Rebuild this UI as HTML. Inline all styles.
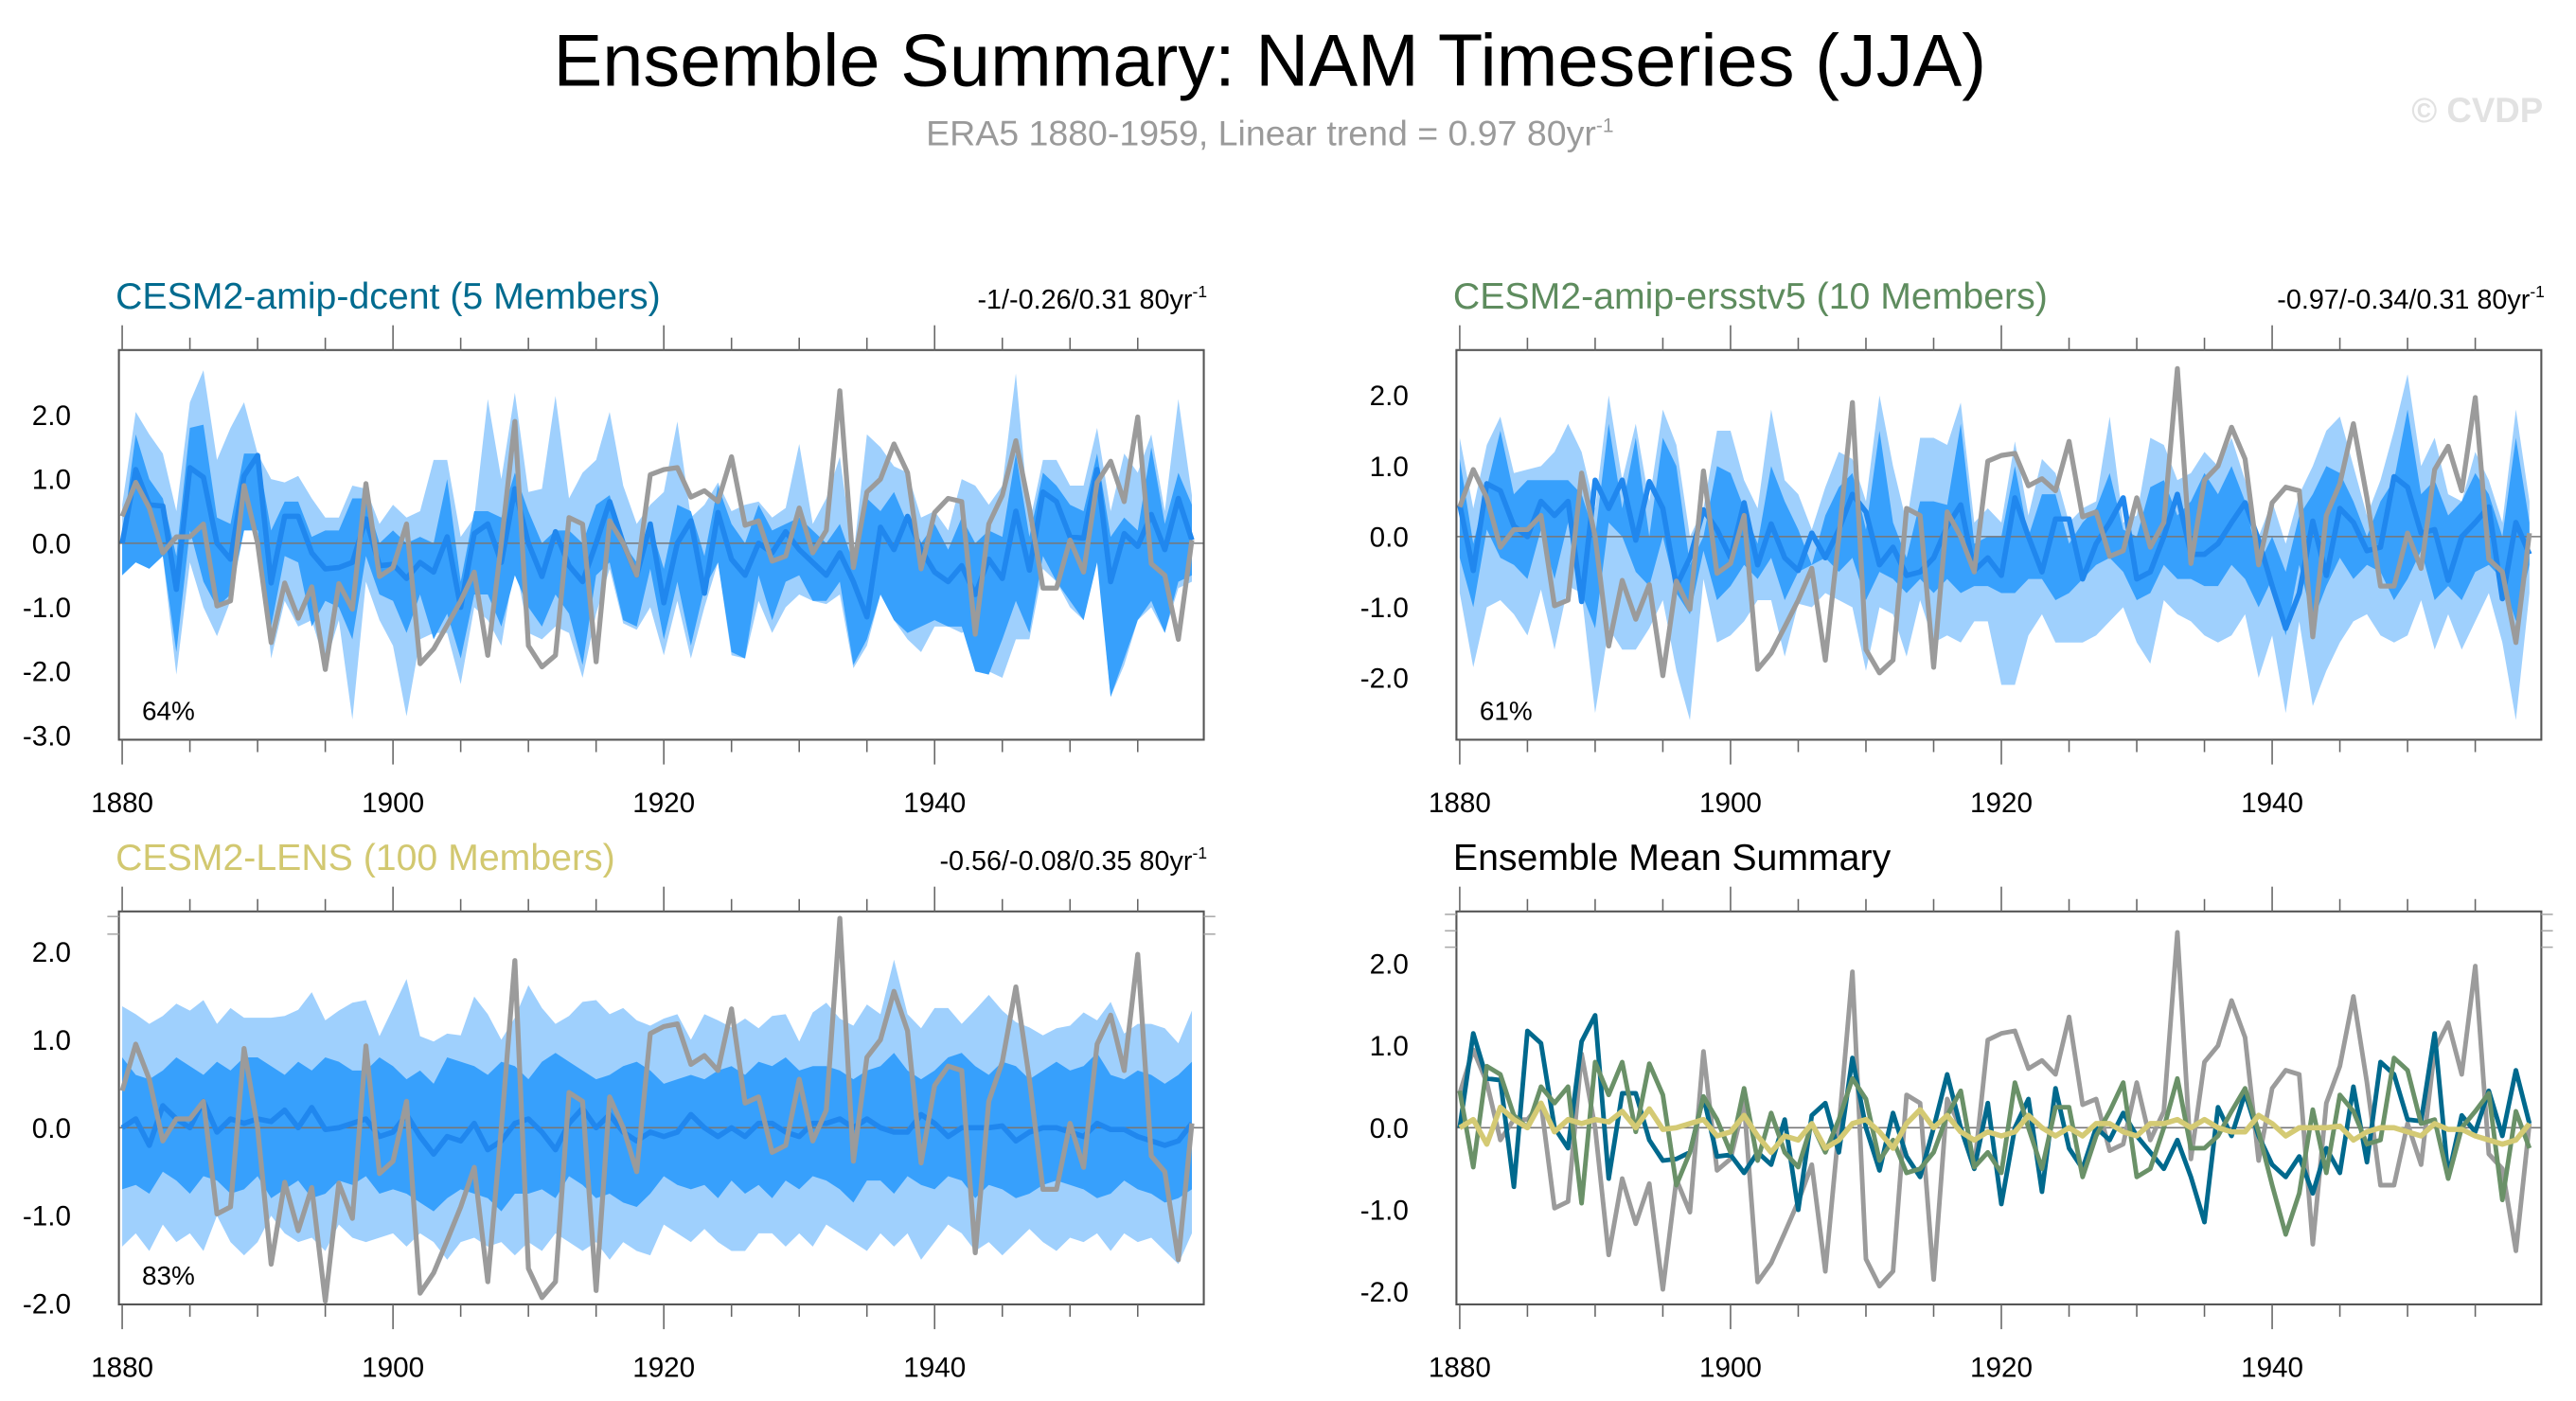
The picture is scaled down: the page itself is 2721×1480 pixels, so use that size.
<!DOCTYPE html>
<html><head><meta charset="utf-8">
<style>
html,body{margin:0;padding:0;background:#fff;}
svg{display:block;font-family:"Liberation Sans",sans-serif;}
</style></head>
<body>
<svg id="chart" width="2721" height="1480" viewBox="0 0 1560 848.5" xmlns="http://www.w3.org/2000/svg">
<rect x="0" y="0" width="1560" height="848.5" fill="#fff"/>
<text x="769" y="52" font-size="44.5" text-anchor="middle" fill="#000">Ensemble Summary: NAM Timeseries (JJA)</text>
<text x="769" y="88" font-size="21.5" text-anchor="middle" fill="#9a9a9a">ERA5 1880-1959, Linear trend = 0.97 80yr<tspan dy="-8" font-size="12">-1</tspan></text>
<text x="1540" y="74" font-size="21" font-weight="bold" text-anchor="end" fill="#e2e2e2">© CVDP</text>
<g id="panels"></g>
</svg>
<script>
// ---- data (years 1880-1959) ----
const years = Array.from({length:80},(_,i)=>1880+i);
const obsEra5 = [0.42,0.95,0.55,-0.15,0.1,0.1,0.3,-0.98,-0.9,0.9,
0.0,-1.55,-0.62,-1.17,-0.68,-1.97,-0.63,-1.03,0.93,-0.52,
-0.38,0.3,-1.88,-1.65,-1.28,-0.9,-0.45,-1.75,0.0,1.9,
-1.6,-1.93,-1.75,0.4,0.3,-1.85,0.35,0.0,-0.5,1.07,
1.15,1.18,0.72,0.82,0.65,1.35,0.28,0.35,-0.28,-0.2,
0.55,-0.15,0.2,2.38,-0.38,0.8,1.0,1.55,1.1,-0.4,
0.48,0.7,0.65,-1.42,0.3,0.75,1.6,0.55,-0.7,-0.7,
0.05,-0.45,0.95,1.28,0.65,1.97,-0.32,-0.5,-1.5,0.05];
const meanDcent = [0.0,1.15,0.6,0.58,-0.72,1.18,1.03,0.0,-0.25,1.05,
1.37,-0.62,0.42,0.42,-0.15,-0.4,-0.38,-0.3,0.38,-0.35,
-0.33,-0.55,-0.3,-0.45,0.1,-1.0,0.15,0.3,-0.3,0.85,
0.0,-0.52,0.18,-0.35,-0.6,0.0,0.65,0.0,-0.5,0.3,
-0.93,0.0,0.35,-0.78,0.48,-0.25,-0.5,0.0,-0.15,0.18,
-0.1,-0.3,-0.5,-0.15,-0.6,-1.15,0.25,-0.1,0.42,-0.1,
-0.45,-0.6,-0.35,-0.8,-0.25,-0.55,0.5,-0.42,0.8,0.65,
0.1,0.08,1.15,-0.6,0.15,-0.05,0.45,-0.1,0.7,0.05];
const meanErsst = [0.45,-0.48,0.75,0.65,0.15,0.0,0.5,0.3,0.5,-0.92,
0.8,0.4,0.8,-0.05,0.78,0.4,-0.7,-0.3,0.38,0.1,
-0.3,0.48,-0.4,0.18,-0.3,-0.48,0.05,-0.3,0.1,0.6,
0.35,-0.4,-0.15,-0.55,-0.5,-0.3,0.15,0.45,-0.48,-0.3,
-0.55,0.55,0.0,-0.5,0.25,0.25,-0.6,-0.1,0.2,0.55,
-0.6,-0.5,0.0,0.6,-0.25,-0.25,-0.1,0.2,0.48,-0.05,
-0.7,-1.3,-0.8,0.22,-0.55,0.4,0.2,-0.2,-0.15,0.85,
0.7,0.05,0.1,-0.62,0.0,0.2,0.42,-0.88,0.2,-0.25];
const meanLens = [0.0,0.1,-0.2,0.25,0.1,0.0,0.3,-0.05,0.1,0.05,
0.1,0.07,0.2,0.0,0.23,-0.02,0.0,0.05,0.1,-0.1,
-0.05,0.15,-0.1,-0.3,-0.1,-0.15,0.05,-0.25,-0.15,0.05,
0.1,-0.05,-0.25,0.05,0.22,0.0,0.15,-0.05,-0.15,-0.05,
-0.1,-0.05,0.15,0.0,-0.1,0.0,-0.1,0.05,0.05,-0.05,
-0.1,0.05,0.05,0.1,0.0,0.1,0.0,-0.05,-0.05,0.15,
0.05,-0.1,0.0,0.0,0.0,0.02,-0.15,-0.05,0.0,0.0,
-0.05,-0.1,0.05,-0.02,-0.02,-0.1,-0.15,-0.2,-0.15,0.05];
// dcent spread
const dcentLightHi = [0.6,2.05,1.7,1.4,0.5,2.2,2.7,1.3,1.8,2.2,
1.4,1.0,0.95,1.05,0.7,0.4,0.4,0.9,0.85,0.3,
0.6,0.4,0.5,1.3,1.3,0.1,0.4,2.25,1.0,2.35,
0.8,0.85,2.3,0.7,1.1,1.3,2.05,0.9,0.3,0.6,
0.8,1.9,0.4,0.6,0.95,0.5,0.6,0.65,0.4,0.55,
1.55,0.3,0.7,1.35,-0.2,1.7,1.5,1.2,1.1,0.4,
0.5,0.2,1.0,0.9,0.6,0.9,2.65,0.3,1.3,1.3,
0.9,0.9,1.8,0.5,1.4,1.1,1.7,0.5,2.25,0.75];
const dcentLightLo = [-0.5,-0.2,-0.3,-0.2,-2.05,-0.3,-1.0,-1.45,-0.9,0.2,
0.3,-1.8,-0.9,-1.3,-1.2,-1.9,-1.2,-2.75,-0.6,-1.2,
-1.6,-2.7,-1.5,-1.4,-1.4,-2.2,-1.0,-1.2,-1.6,-0.3,
-1.4,-1.5,-1.3,-1.4,-2.1,-1.1,-0.4,-1.25,-1.35,-1.0,
-1.75,-0.9,-1.8,-1.0,-0.3,-1.75,-1.8,-0.9,-1.4,-1.0,
-0.8,-0.9,-0.95,-0.8,-1.95,-1.6,-0.8,-1.2,-1.5,-1.7,
-1.3,-1.3,-1.4,-1.3,-2.0,-2.1,-1.5,-1.5,-0.4,-0.6,
-1.0,-1.2,-0.2,-2.4,-1.9,-1.2,-1.0,-1.4,-0.7,-0.6];
const dcentDarkHi = [0.1,1.7,1.0,0.7,-0.2,1.8,1.85,0.4,0.3,1.4,
1.4,0.2,0.65,0.65,0.1,0.2,0.2,0.7,0.7,0.0,
0.2,0.0,0.1,0.0,1.0,-0.6,0.5,0.5,0.4,1.1,
0.5,0.0,0.2,0.2,0.0,0.6,0.75,0.0,-0.3,0.3,
-0.4,0.6,0.5,-0.2,0.9,0.3,0.0,0.6,0.2,0.3,
0.4,0.2,0.0,0.3,-0.3,0.7,0.5,0.8,0.3,0.0,
0.3,-0.1,0.4,0.0,0.2,0.1,1.4,0.1,1.1,0.9,
0.6,0.5,1.4,0.1,0.4,0.2,1.5,0.3,1.1,0.6];
const dcentDarkLo = [-0.5,-0.3,-0.4,-0.2,-1.7,0.2,-0.6,-1.0,-0.8,0.2,
0.2,-1.3,-0.2,-0.3,-1.3,-0.9,-1.0,-1.5,-0.2,-0.8,
-0.9,-1.4,-0.8,-1.5,-1.1,-1.8,-0.8,-0.8,-1.3,-0.5,
-1.0,-1.3,-0.8,-1.1,-1.9,-0.5,-0.3,-1.2,-1.3,-0.4,
-1.5,-0.6,-1.6,-0.7,-0.3,-1.7,-1.8,-0.5,-1.2,-0.6,
-0.5,-0.9,-0.9,-0.6,-1.9,-1.5,-0.8,-1.2,-1.4,-1.3,
-1.2,-1.3,-1.3,-2.0,-2.05,-1.5,-0.9,-1.4,-0.2,-0.6,
-0.9,-1.2,-0.3,-2.4,-1.8,-1.2,-0.9,-1.4,-0.6,-0.5];
// ersstv5 spread
const ersstLightHi = [1.4,0.4,1.3,1.7,0.9,0.95,1.0,1.2,1.6,1.2,
0.4,2.0,0.8,1.6,0.5,1.8,1.3,0.0,0.4,1.5,
1.5,0.8,0.4,1.8,0.8,0.6,0.1,0.7,1.2,1.1,
0.5,2.0,1.0,0.2,1.4,1.4,1.3,1.9,0.2,0.4,
0.2,1.35,0.3,1.1,0.9,0.2,0.4,0.5,1.7,0.2,
0.3,1.4,1.3,0.8,0.9,1.2,1.0,1.4,0.8,0.0,
0.5,-0.1,0.6,1.0,1.5,1.7,1.0,0.3,0.8,1.5,
2.3,1.0,1.4,0.6,0.5,1.2,0.8,0.2,1.8,0.5];
const ersstLightLo = [-0.8,-1.85,-1.0,-0.9,-1.1,-1.4,-0.75,-1.6,-0.7,-0.8,
-2.5,-1.3,-1.6,-1.6,-1.3,-0.9,-1.9,-2.6,-0.6,-1.5,
-1.4,-1.2,-0.9,-0.9,-1.7,-0.95,-1.0,-0.8,-0.9,-1.0,
-1.9,-1.0,-1.1,-1.7,-0.9,-1.5,-1.4,-1.5,-1.2,-1.2,
-2.1,-2.1,-1.4,-1.1,-1.5,-1.5,-1.5,-1.4,-1.2,-1.0,
-1.5,-1.8,-0.9,-1.1,-1.2,-1.4,-1.5,-1.4,-1.1,-2.0,
-1.4,-2.5,-1.2,-2.4,-1.9,-1.5,-1.2,-1.1,-1.4,-1.5,
-1.4,-0.9,-1.6,-1.1,-1.6,-1.2,-0.8,-1.5,-2.6,-0.8];
const ersstDarkHi = [1.1,-0.1,0.7,1.5,0.6,0.8,0.8,0.8,0.8,0.6,
0.0,1.6,0.4,1.4,0.0,1.4,1.0,-0.4,0.0,1.0,
0.9,0.4,-0.1,1.0,0.5,0.1,-0.4,0.3,0.7,0.9,
0.1,1.5,0.2,-0.3,0.5,0.5,0.45,1.6,-0.1,0.0,
0.0,1.0,0.0,0.6,0.6,-0.1,0.2,0.4,0.9,0.1,
0.0,0.7,0.8,0.3,0.5,0.9,0.6,1.0,0.5,-0.4,
0.0,-0.5,0.3,0.6,1.0,0.9,0.5,0.0,0.5,0.8,
1.8,0.6,0.8,0.3,0.5,0.9,0.6,0.0,1.4,0.2];
const ersstDarkLo = [-0.3,-1.0,0.1,-0.3,-0.4,-0.6,0.1,-0.6,0.2,-0.8,
-1.3,0.2,0.0,-0.5,-0.7,0.0,-0.8,-1.1,-0.2,-0.9,
-0.7,-0.4,-0.6,-0.3,-0.9,-0.5,-0.4,-0.3,-0.5,-0.3,
-0.9,-0.5,-0.6,-0.8,-0.6,-0.8,-0.6,-0.8,-0.7,-0.7,
-0.8,-0.8,-0.6,-0.6,-0.9,-0.8,-0.6,-0.4,-0.3,-0.5,
-0.9,-0.8,-0.4,-0.6,-0.6,-0.7,-0.7,-0.4,-0.6,-1.0,
-0.6,-1.4,-0.4,-1.2,-0.7,-0.3,-0.6,-0.4,-0.5,-0.9,
-0.6,-0.2,-0.9,-0.7,-0.9,-0.5,-0.4,-0.6,-1.2,-0.4];
// LENS spread
const lensLightHi = [1.38,1.29,1.18,1.27,1.41,1.33,1.45,1.18,1.36,1.25,
1.25,1.25,1.27,1.34,1.54,1.22,1.33,1.42,1.45,1.04,
1.36,1.69,1.04,0.98,1.07,1.05,1.49,1.29,1.0,1.25,
1.62,1.36,1.18,1.27,1.43,1.45,1.29,1.36,1.22,1.16,
1.24,1.29,1.0,1.29,1.22,1.14,1.24,1.13,1.27,1.29,
0.98,1.31,1.42,1.24,1.16,1.4,1.29,1.91,1.29,1.13,
1.36,1.36,1.18,1.34,1.51,1.33,1.2,1.14,1.05,1.13,
1.16,1.31,1.22,1.43,1.07,1.18,1.18,1.13,0.96,1.33];
const lensLightLo = [-1.35,-1.2,-1.4,-1.1,-1.3,-1.2,-1.4,-1.0,-1.3,-1.45,
-1.3,-1.0,-1.2,-1.3,-1.25,-1.4,-1.1,-1.25,-1.3,-1.25,
-1.2,-1.35,-1.2,-1.3,-1.5,-1.3,-1.25,-1.35,-1.3,-1.45,
-1.3,-1.4,-1.2,-1.3,-1.4,-1.3,-1.5,-1.3,-1.4,-1.45,
-1.1,-1.2,-1.3,-1.15,-1.3,-1.4,-1.4,-1.2,-1.2,-1.35,
-1.2,-1.35,-1.1,-1.2,-1.3,-1.4,-1.2,-1.35,-1.2,-1.5,
-1.3,-1.1,-1.2,-1.4,-1.3,-1.45,-1.3,-1.15,-1.3,-1.4,
-1.25,-1.3,-1.2,-1.4,-1.2,-1.3,-1.25,-1.4,-1.55,-1.2];
const lensDarkHi = [0.8,0.6,0.55,0.65,0.8,0.7,0.6,0.75,0.65,0.8,
0.8,0.7,0.6,0.75,0.65,0.8,0.75,0.65,0.65,0.8,
0.7,0.55,0.65,0.5,0.8,0.75,0.7,0.6,0.75,0.7,
0.55,0.75,0.85,0.75,0.65,0.55,0.6,0.7,0.75,0.65,
0.5,0.55,0.6,0.55,0.65,0.7,0.6,0.75,0.7,0.8,
0.65,0.7,0.7,0.65,0.55,0.65,0.7,0.85,0.65,0.55,
0.65,0.8,0.85,0.7,0.6,0.75,0.7,0.55,0.65,0.75,
0.65,0.7,0.85,0.6,0.55,0.65,0.6,0.5,0.6,0.75];
const lensDarkLo = [-0.7,-0.65,-0.75,-0.5,-0.6,-0.75,-0.55,-0.6,-0.75,-0.7,
-0.55,-0.8,-0.7,-0.6,-0.8,-0.75,-0.6,-0.65,-0.55,-0.75,
-0.7,-0.75,-0.85,-0.95,-0.8,-0.7,-0.75,-0.8,-0.95,-0.75,
-0.75,-0.7,-0.8,-0.55,-0.65,-0.8,-0.75,-0.85,-0.9,-0.75,
-0.55,-0.65,-0.7,-0.65,-0.8,-0.6,-0.75,-0.65,-0.8,-0.6,
-0.7,-0.55,-0.6,-0.7,-0.85,-0.6,-0.6,-0.75,-0.55,-0.65,
-0.7,-0.55,-0.6,-0.8,-0.65,-0.7,-0.8,-0.75,-0.65,-0.6,
-0.65,-0.7,-0.8,-0.75,-0.6,-0.7,-0.75,-0.85,-0.8,-0.7];
const xTickLabels = [1880,1900,1920,1940];
const yTicksTL = [-3,-2,-1,0,1,2];
const yTicksTR = [-2,-1,0,1,2];
const yTicksBL = [-2,-1,0,1,2];
const yTicksBR = [-2,-1,0,1,2];

const NS='http://www.w3.org/2000/svg';
const root=document.getElementById('panels');
function mk(tag,attrs,parent){const e=document.createElementNS(NS,tag);for(const k in attrs)e.setAttribute(k,attrs[k]);(parent||root).appendChild(e);return e;}

function panel(cfg){
  const g=mk('g',{});
  
  
  const L=cfg.left, R=cfg.left+657, T=cfg.top, B=cfg.bottom;
  const x0=L+2, dx=8.2;
  const X=yr=>x0+(yr-1880)*dx;
  const Y=v=>cfg.zeroY - v*cfg.unit;
  const vmin=(cfg.zeroY-B)/cfg.unit*-1, vmax=(cfg.zeroY-T)/cfg.unit;
  function band(hi,lo,color,nm){
    let d='M'+years.map((yr,i)=>X(yr).toFixed(2)+','+Y(hi[i]).toFixed(2)).join('L');
    for(let i=years.length-1;i>=0;i--) d+='L'+X(years[i]).toFixed(2)+','+Y(lo[i]).toFixed(2);
    const p=mk('path',{d:d+'Z',fill:color,stroke:'none'},g);
    
    
  }
  if(cfg.lightHi){band(cfg.lightHi,cfg.lightLo,'#9fd0fd','spread-min-max');band(cfg.darkHi,cfg.darkLo,'#37a0fc','spread-interquartile');}
  const zl=mk('line',{x1:L,x2:R,y1:Y(0),y2:Y(0),stroke:'#777','stroke-width':0.9},g);
  
  
  function line(vals,color,w,nm){
    const pts=years.map((yr,i)=>X(yr).toFixed(2)+','+Y(vals[i]).toFixed(2)).join(' ');
    const pl=mk('polyline',{points:pts,fill:'none',stroke:color,'stroke-width':w,'stroke-linejoin':'round'},g);
    
    
  }
  cfg.lines.forEach(l=>line(l.v,l.c,l.w,l.n));
  const fr=mk('rect',{x:L,y:T,width:R-L,height:B-T,fill:'none',stroke:'#555','stroke-width':1.2},g);
  
  
  for(let yr=1880;yr<=1959;yr+=5){
    const maj=(yr%20===0), len=maj?15:7.5;
    mk('line',{x1:X(yr),x2:X(yr),y1:T,y2:T-len,stroke:'#666','stroke-width':0.9},g);
    mk('line',{x1:X(yr),x2:X(yr),y1:B,y2:B+len,stroke:'#666','stroke-width':0.9},g);
  }
  xTickLabels.forEach(yr=>{
    const t=mk('text',{x:X(yr),y:B+44,'font-size':17,'text-anchor':'middle',fill:'#000'},g);
    
    
    t.textContent=yr;
  });
  for(let k=Math.ceil(vmin*5);k<=Math.floor(vmax*5);k++){
    const v=k/5, maj=(k%5===0), len=maj?15:7;
    mk('line',{x1:L,x2:L-len,y1:Y(v),y2:Y(v),stroke:maj?'#555':'#aaa','stroke-width':maj?1:0.9},g);
    mk('line',{x1:R,x2:R+len,y1:Y(v),y2:Y(v),stroke:maj?'#555':'#aaa','stroke-width':maj?1:0.9},g);
  }
  cfg.yTicks.forEach(v=>{
    const t=mk('text',{x:L-29,y:Y(v)+6,'font-size':17,'text-anchor':'end',fill:'#000'},g);
    
    
    t.textContent=v.toFixed(1);
  });
  const ti=mk('text',{x:L-2,y:T-25,'font-size':22.5,fill:cfg.titleColor},g);
  
  
  ti.textContent=cfg.title;
  if(cfg.trend){
    const tr=mk('text',{x:R+2,y:T-25,'font-size':16.5,'text-anchor':'end',fill:'#000'},g);
    
    
    tr.textContent=cfg.trend+' 80yr';
    const sup=mk('tspan',{dy:-7,'font-size':10},tr); sup.textContent='-1';
  }
  if(cfg.pct){
    const pc=mk('text',{x:L+14,y:B-12,'font-size':16,fill:'#000'},g);
    
    
    pc.textContent=cfg.pct;
  }
}
const MC='#2087ee', OB='#9b9b9b';
panel({name:'panel-dcent',left:72,top:212,bottom:448,zeroY:329,unit:38.8,yTicks:yTicksTL,
 title:'CESM2-amip-dcent (5 Members)',titleColor:'#006b8f',trend:'-1/-0.26/0.31',pct:'64%',
 lightHi:dcentLightHi,lightLo:dcentLightLo,darkHi:dcentDarkHi,darkLo:dcentDarkLo,
 lines:[{v:meanDcent,c:MC,w:3.2,n:'ensemble-mean-line'},{v:obsEra5,c:OB,w:3,n:'era5-line'}]});
panel({name:'panel-ersstv5',left:882,top:212,bottom:448,zeroY:325,unit:42.75,yTicks:yTicksTR,
 title:'CESM2-amip-ersstv5 (10 Members)',titleColor:'#5e8c5e',trend:'-0.97/-0.34/0.31',pct:'61%',
 lightHi:ersstLightHi,lightLo:ersstLightLo,darkHi:ersstDarkHi,darkLo:ersstDarkLo,
 lines:[{v:meanErsst,c:MC,w:3.2,n:'ensemble-mean-line'},{v:obsEra5,c:OB,w:3,n:'era5-line'}]});
panel({name:'panel-lens',left:72,top:552,bottom:790,zeroY:683,unit:53.3,yTicks:yTicksBL,
 title:'CESM2-LENS (100 Members)',titleColor:'#d2c870',trend:'-0.56/-0.08/0.35',pct:'83%',
 lightHi:lensLightHi,lightLo:lensLightLo,darkHi:lensDarkHi,darkLo:lensDarkLo,
 lines:[{v:meanLens,c:MC,w:3.2,n:'ensemble-mean-line'},{v:obsEra5,c:OB,w:3,n:'era5-line'}]});
panel({name:'panel-ensemble-mean-summary',left:882,top:552,bottom:790,zeroY:683,unit:49.7,yTicks:yTicksBR,
 title:'Ensemble Mean Summary',titleColor:'#000',
 lines:[{v:obsEra5,c:OB,w:2.8,n:'era5-line'},{v:meanDcent,c:'#00698d',w:2.8,n:'dcent-mean-line'},
        {v:meanErsst,c:'#6a9168',w:2.8,n:'ersstv5-mean-line'},{v:meanLens,c:'#d4ca74',w:3.2,n:'lens-mean-line'}]});
</script>
</body></html>
